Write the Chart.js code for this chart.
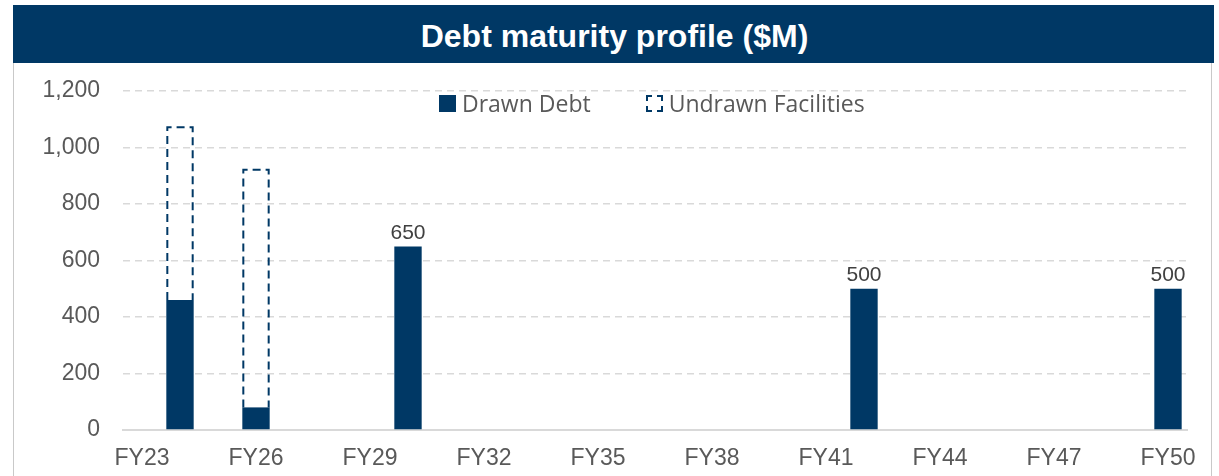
<!DOCTYPE html>
<html>
<head>
<meta charset="utf-8">
<title>Debt maturity profile</title>
<script src="https://cdn.jsdelivr.net/npm/chart.js@4.4.1/dist/chart.umd.min.js"></script>
<style>
    html, body { margin: 0; padding: 0; background: #fff; }
    #wrap { position: relative; width: 1219px; height: 476px; overflow: hidden; }
    #frame {
        position: absolute; left: 13px; top: 5px; width: 1199px; height: 500px;
        border: 1.5px solid #c9c9c9; box-sizing: border-box;
    }
    #banner {
        position: absolute; left: 13px; top: 5px; width: 1201px; height: 58px;
        background: #003865; color: #fff; z-index: 2;
        font: bold 32px "Liberation Sans", Arial, sans-serif;
        display: flex; align-items: center; justify-content: center;
        padding: 5px 0 0 2px; box-sizing: border-box;
    }
    #chartBox { position: absolute; left: 0; top: 0; width: 1219px; height: 476px; }
    #legend {
        position: absolute; left: 439px; top: 87px; z-index: 2;
        display: flex; align-items: center;
        font: 23px "Open Sans", sans-serif; color: #595959;
    }
    .item { display: flex; align-items: center; }
    .swatch { width: 17px; height: 17px; box-sizing: border-box; margin-right: 6px; }
    .drawn { background: #003865; }
    .undrawn { border: 2px dashed #003865; }
</style>
</head>
<body>
<div id="wrap">
    <div id="frame"></div>
    <div id="chartBox"><canvas id="debtChart"></canvas></div>
    <div id="banner">Debt maturity profile ($M)</div>
    <div id="legend">
        <div class="item"><span class="swatch drawn"></span>Drawn Debt</div>
        <div class="item" style="margin-left:55px"><span class="swatch undrawn"></span>Undrawn Facilities</div>
    </div>
</div>
<script>
// chart data
const years = ['FY23', 'FY24', 'FY25', 'FY26', 'FY27', 'FY28', 'FY29', 'FY30', 'FY31', 'FY32',
               'FY33', 'FY34', 'FY35', 'FY36', 'FY37', 'FY38', 'FY39', 'FY40', 'FY41', 'FY42',
               'FY43', 'FY44', 'FY45', 'FY46', 'FY47', 'FY48', 'FY49', 'FY50'];
const drawnDebt = [null, 460, null, 80, null, null, null, 650, null, null,
                   null, null, null, null, null, null, null, null, null, 500,
                   null, null, null, null, null, null, null, 500];
const undrawnFacilities = [null, 615, null, 845, null, null, null, null, null, null,
                           null, null, null, null, null, null, null, null, null, null,
                           null, null, null, null, null, null, null, null];
const yTicks = [0, 200, 400, 600, 800, 1000, 1200];

const navy = '#003865';
const grey = '#595959';

// dashed outline for undrawn bars (Chart.js bars have no dashed border)
const dashedBars = {
    id: 'dashedBars',
    afterDatasetsDraw(chart) {
        const meta = chart.getDatasetMeta(1);
        const ctx = chart.ctx;
        ctx.save();
        ctx.strokeStyle = navy;
        ctx.lineWidth = 2;
        ctx.setLineDash([8, 5]);
        meta.data.forEach((bar, i) => {
            if (undrawnFacilities[i] == null) return;
            const p = bar.getProps(['x', 'y', 'base', 'width'], true);
            const left = p.x - p.width / 2 + 1;
            ctx.beginPath();
            ctx.moveTo(left, p.base);
            ctx.lineTo(left, p.y + 1);
            ctx.lineTo(left + p.width - 2, p.y + 1);
            ctx.lineTo(left + p.width - 2, p.base);
            ctx.stroke();
        });
        ctx.restore();
    }
};

// value labels above drawn bars that have no undrawn part
const barLabels = {
    id: 'barLabels',
    afterDatasetsDraw(chart) {
        const meta = chart.getDatasetMeta(0);
        const ctx = chart.ctx;
        ctx.save();
        ctx.font = '21px "Liberation Sans", Arial, sans-serif';
        ctx.fillStyle = '#404040';
        ctx.textAlign = 'center';
        ctx.textBaseline = 'bottom';
        meta.data.forEach((bar, i) => {
            if (drawnDebt[i] == null || undrawnFacilities[i] != null) return;
            ctx.fillText(drawnDebt[i], bar.x, bar.y - 3);
        });
        ctx.restore();
    }
};

new Chart(document.getElementById('debtChart'), {
    type: 'bar',
    data: {
        labels: years,
        datasets: [
            {
                label: 'Drawn Debt',
                data: drawnDebt,
                backgroundColor: navy,
                barPercentage: 0.72,
                categoryPercentage: 1.0
            },
            {
                label: 'Undrawn Facilities',
                data: undrawnFacilities,
                backgroundColor: 'rgba(0,0,0,0)',
                borderWidth: 0,
                barPercentage: 0.72,
                categoryPercentage: 1.0
            }
        ]
    },
    options: {
        responsive: true,
        maintainAspectRatio: false,
        animation: false,
        layout: { padding: { left: 0, right: 32, top: 91, bottom: 0 } },
        plugins: {
            legend: { display: false },
            tooltip: { enabled: false }
        },
        scales: {
            x: {
                stacked: true,
                afterFit: (scale) => { scale.height = 46; },
                grid: { display: false },
                border: { display: true, color: '#d9d9d9', width: 2 },
                ticks: {
                    autoSkip: false,
                    maxRotation: 0,
                    padding: 7,
                    color: grey,
                    font: { family: '"Liberation Sans", Arial, sans-serif', size: 23 },
                    callback: (val, idx) => (idx % 3 === 0 ? years[idx] : '')
                }
            },
            y: {
                stacked: true,
                min: 0,
                max: 1200,
                afterFit: (scale) => { scale.width = 123; },
                afterBuildTicks: (scale) => { scale.ticks = yTicks.map(v => ({ value: v })); },
                grid: {
                    color: '#d9d9d9',
                    lineWidth: 1.5,
                    drawTicks: false
                },
                border: {
                    display: false,
                    dash: (c) => (c.tick && c.tick.value === 0 ? [] : [7, 5])
                },
                ticks: {
                    padding: 23,
                    color: grey,
                    font: { family: '"Liberation Sans", Arial, sans-serif', size: 23 },
                    callback: (v) => v.toLocaleString('en-US')
                }
            }
        }
    },
    plugins: [dashedBars, barLabels]
});
</script>
</body>
</html>
